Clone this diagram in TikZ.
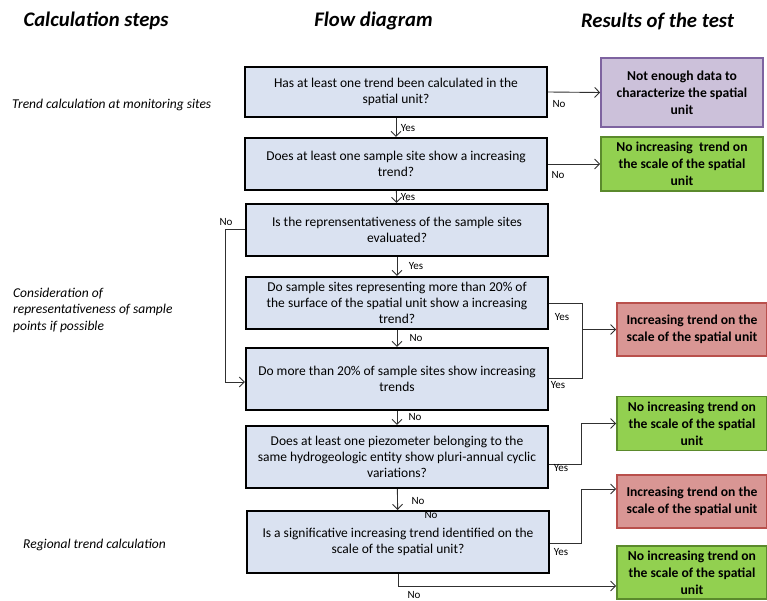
\documentclass[tikz,border=0pt]{standalone}
\usepackage{fontspec}
\setmainfont{Carlito}
\usetikzlibrary{arrows.meta,calc}
\definecolor{qfill}{HTML}{DAE2F1}
\definecolor{purfill}{HTML}{CCC1DA}
\definecolor{purline}{HTML}{7E63A0}
\definecolor{grnfill}{HTML}{92D050}
\definecolor{grnline}{HTML}{5B8A2C}
\definecolor{redfill}{HTML}{D99694}
\definecolor{redline}{HTML}{B9504C}
\definecolor{linkgray}{HTML}{303030}
\tikzset{
  question/.style={draw=black, line width=2.2pt, fill=qfill, minimum width=302pt,
    align=center, inner sep=2pt, font=\fontsize{13.5}{16.3}\selectfont},
  result/.style={line width=1.6pt, align=center, inner sep=2pt,
    font=\fontsize{13.6}{16.8}\selectfont\bfseries},
  purbox/.style={result, draw=purline, fill=purfill, minimum width=162pt, minimum height=69pt},
  grnbox/.style={result, draw=grnline, fill=grnfill, minimum width=162pt, minimum height=54pt},
  redbox/.style={result, draw=redline, fill=redfill, minimum width=162pt, minimum height=53pt},
  link/.style={draw=linkgray, line width=0.9pt, -{Straight Barb[length=5pt,width=10pt]}},
  plain/.style={draw=linkgray, line width=0.9pt},
  answer/.style={font=\fontsize{11}{12}\selectfont, inner sep=0pt},
  heading/.style={font=\fontsize{20.7}{24}\selectfont\bfseries\itshape, inner sep=0pt},
  sidenote/.style={font=\fontsize{13.5}{16.5}\selectfont\itshape, inner sep=0pt, align=left}
}
\begin{document}
\begin{tikzpicture}[x=1pt,y=-1pt]
\useasboundingbox (0,0) rectangle (767,601);

% column headings
\node[heading] (h1) at (96,21) {Calculation steps};
\node[heading] (h2) at (373.5,21) {Flow diagram};
\node[heading] (h3) at (657.5,21) {Results of the test};

% calculation steps
\node[sidenote, anchor=west] (s1) at (12,105) {Trend calculation at monitoring sites};
\node[sidenote, anchor=west] (s2) at (13,310) {Consideration of\\representativeness of sample\\points if possible};
\node[sidenote, anchor=west] (s3) at (23,545) {Regional trend calculation};

% questions
\node[question, minimum height=50pt] (b1) at (396,92) {Has at least one trend been calculated in the\\spatial unit?};
\node[question, minimum height=52pt] (b2) at (396,164) {Does at least one sample site show a increasing\\trend?};
\node[question, minimum height=52pt] (b3) at (397,230) {Is the reprensentativeness of the sample sites\\evaluated?};
\node[question, minimum height=52pt] (b4) at (397,303) {Do sample sites representing more than 20\% of\\the surface of the spatial unit show a increasing\\trend?};
\node[question, minimum height=62pt] (b5) at (397,379) {Do more than 20\% of sample sites show increasing\\trends};
\node[question, minimum height=62pt] (b6) at (397,457) {Does at least one piezometer belonging to the\\same hydrogeologic entity show pluri-annual cyclic\\variations?};
\node[question, minimum height=62pt] (b7) at (398,542) {Is a significative increasing trend identified on the\\scale of the spatial unit?};

% results
\node[purbox] (r1) at (682,92.5) {Not enough data to\\characterize the spatial\\unit};
\node[grnbox] (r2) at (682,164) {No increasing\ \ trend on\\the scale of the spatial\\unit};
\node[redbox, minimum width=150pt] (r3) at (692,329.5) {Increasing trend on the\\scale of the spatial unit};
\node[grnbox, minimum width=150pt] (r4) at (692,423.5) {No increasing trend on\\the scale of the spatial\\unit};
\node[redbox, minimum width=150pt] (r5) at (692,501.5) {Increasing trend on the\\scale of the spatial unit};
\node[grnbox, minimum width=150pt, minimum height=53pt] (r6) at (692,572.5) {No increasing trend on\\the scale of the spatial\\unit};

% straight flow
\draw[link] (b1) -- (b2);
\draw[link] (b2) -- (b3);
\draw[link] (b3) -- (b4);
\draw[link] (b4) -- (b5);
\draw[link] (b5) -- (b6);
\draw[link] (b6) -- (b7);
\draw[link] (b1.east) -- (r1.west);
\draw[link] (b2.east) -- (r2.west);

% bypass when representativeness is unknown
\coordinate (byp) at (225,0);
\draw[link] ($(b3.west)+(0,-1)$) -- ($(byp|-b3.west)+(0,-1)$) -- ($(byp|-b5.west)+(0,3)$) -- ($(b5.west)+(0,3)$);

% joined "Yes" branches to the increasing-trend result
\coordinate (jx) at (582,0);
\draw[plain] (b4.east) -- (jx|-b4.east) -- ($(jx|-b5.east)+(0,-1)$) -- ($(b5.east)+(0,-1)$);
\draw[link] (jx|-r3.west) -- (r3.west);

% regional branches
\coordinate (kx) at (581,0);
\draw[link] ($(b6.east)+(0,7)$) -- ($(kx|-b6.east)+(0,7)$) -- (kx|-r4.west) -- (r4.west);
\draw[link] ($(b7.east)+(0,1)$) -- ($(kx|-b7.east)+(0,1)$) -- ($(kx|-r5.west)+(0,-12.5)$) -- ($(r5.west)+(0,-12.5)$);
\draw[link] (b7.south) -- ($(b7.south|-r6.west)+(0,13.5)$) -- ($(r6.west)+(0,13.5)$);

% answers
\node[answer] (a1) at (559,104) {No};
\node[answer] (a2) at (558,175) {No};
\node[answer] (a3) at (408,128) {Yes};
\node[answer] (a4) at (408,197) {Yes};
\node[answer] (a5) at (416,266) {Yes};
\node[answer] (a6) at (416,338) {No};
\node[answer] (a7) at (415,417) {No};
\node[answer] (a8) at (418,501) {No};
\node[answer] (a9) at (431,515) {No};
\node[answer] (a10) at (226,222) {No};
\node[answer] (a11) at (562,317) {Yes};
\node[answer] (a12) at (558,385) {Yes};
\node[answer] (a13) at (561,468) {Yes};
\node[answer] (a14) at (561,552) {Yes};
\node[answer] (a15) at (414,595) {No};
\end{tikzpicture}
\end{document}
